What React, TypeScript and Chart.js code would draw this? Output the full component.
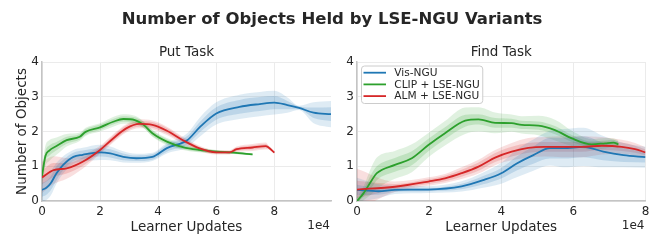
import React, { useEffect, useRef } from "react";
import { Chart, registerables } from "chart.js";

Chart.register(...registerables);

const FONT = "'DejaVu Sans', 'Liberation Sans', sans-serif";
const TEXT = "#262626";

const seriesNames = ["Vis-NGU", "CLIP + LSE-NGU", "ALM + LSE-NGU"];
const seriesColors = ["#1f77b4", "#2ca02c", "#d62728"];
const seriesRgb = ["31,119,180", "44,160,44", "214,39,40"];
const yTicks = [0, 1, 2, 3, 4];
const xTicks = [0, 20000, 40000, 60000, 80000];
const mainTitle = "Number of Objects Held by LSE-NGU Variants";
const panelTitles = ["Put Task", "Find Task"];
const xLabel = "Learner Updates";
const yLabel = "Number of Objects";

// ---- Put Task ----
const putVisX = [0, 1500, 3000, 5000, 7300, 10800, 14000, 20000, 23500, 28000, 32500, 38000, 43000, 50000, 54500, 60000, 68000, 75000, 80000, 84500, 88500, 93500, 99500];
const putVisMean = [0.32, 0.38, 0.51, 0.8, 1.04, 1.27, 1.33, 1.4, 1.37, 1.27, 1.23, 1.27, 1.52, 1.75, 2.14, 2.52, 2.71, 2.79, 2.83, 2.76, 2.68, 2.54, 2.5];
const putVisInner = [0.2, 0.2, 0.2, 0.2, 0.15, 0.12, 0.12, 0.12, 0.12, 0.1, 0.08, 0.08, 0.1, 0.12, 0.15, 0.18, 0.2, 0.2, 0.19, 0.12, 0.04, 0.15, 0.2];
const putVisOuter = [0.35, 0.35, 0.35, 0.3, 0.25, 0.2, 0.2, 0.22, 0.2, 0.16, 0.13, 0.12, 0.15, 0.2, 0.28, 0.32, 0.35, 0.35, 0.34, 0.22, 0.06, 0.3, 0.38];

const putClipX = [0, 1200, 2500, 5000, 8500, 13000, 15000, 20000, 24500, 28000, 32000, 35000, 38000, 43000, 48500, 54000, 60000, 66000, 72500];
const putClipMean = [0.72, 1.3, 1.45, 1.58, 1.75, 1.85, 1.99, 2.12, 2.28, 2.36, 2.33, 2.19, 1.95, 1.71, 1.55, 1.47, 1.42, 1.39, 1.34];
const putClipInner = [0.15, 0.15, 0.15, 0.12, 0.1, 0.08, 0.08, 0.08, 0.08, 0.08, 0.08, 0.08, 0.08, 0.07, 0.06, 0.05, 0.04, 0.03, 0.02];
const putClipOuter = [0.3, 0.3, 0.3, 0.25, 0.18, 0.12, 0.12, 0.12, 0.14, 0.14, 0.12, 0.1, 0.1, 0.1, 0.08, 0.07, 0.05, 0.04, 0.03];

const putAlmX = [0, 4000, 8500, 14000, 20000, 24500, 29000, 33500, 38000, 43000, 48500, 54000, 60000, 64500, 67000, 72500, 77000, 78000, 80000];
const putAlmMean = [0.68, 0.89, 0.94, 1.13, 1.47, 1.8, 2.09, 2.22, 2.19, 2.02, 1.75, 1.52, 1.4, 1.4, 1.49, 1.54, 1.58, 1.54, 1.39];
const putAlmInner = [0.2, 0.2, 0.15, 0.12, 0.08, 0.08, 0.08, 0.08, 0.08, 0.08, 0.06, 0.05, 0.04, 0.04, 0.05, 0.06, 0.06, 0.04, 0.02];
const putAlmOuter = [0.45, 0.4, 0.3, 0.2, 0.12, 0.12, 0.12, 0.13, 0.13, 0.12, 0.1, 0.08, 0.06, 0.06, 0.08, 0.1, 0.1, 0.06, 0.03];

// ---- Find Task ----
const findVisX = [0, 5900, 10500, 19800, 29000, 35000, 40000, 44300, 48900, 53500, 57200, 62800, 68300, 73900, 80000];
const findVisMean = [0.32, 0.28, 0.32, 0.33, 0.42, 0.6, 0.8, 1.08, 1.32, 1.52, 1.52, 1.56, 1.42, 1.32, 1.26];
const findVisInner = [0.15, 0.1, 0.06, 0.05, 0.08, 0.12, 0.15, 0.2, 0.25, 0.3, 0.3, 0.3, 0.25, 0.2, 0.15];
const findVisOuter = [0.35, 0.2, 0.12, 0.1, 0.15, 0.22, 0.3, 0.4, 0.45, 0.5, 0.55, 0.55, 0.45, 0.35, 0.3];

const findClipX = [0, 1800, 4100, 5500, 10500, 15200, 19800, 24400, 30000, 33700, 38300, 42900, 45700, 50300, 54900, 59600, 65100, 68800, 71100, 72500];
const findClipMean = [0, 0.22, 0.6, 0.8, 1.04, 1.23, 1.61, 1.95, 2.31, 2.35, 2.25, 2.24, 2.19, 2.17, 2.04, 1.8, 1.63, 1.66, 1.68, 1.63];
const findClipInner = [0.05, 0.1, 0.2, 0.2, 0.2, 0.2, 0.18, 0.17, 0.17, 0.15, 0.14, 0.13, 0.12, 0.12, 0.12, 0.1, 0.08, 0.08, 0.08, 0.08];
const findClipOuter = [0.1, 0.2, 0.4, 0.45, 0.4, 0.4, 0.35, 0.35, 0.38, 0.35, 0.3, 0.25, 0.25, 0.28, 0.3, 0.22, 0.15, 0.15, 0.12, 0.12];

const findAlmX = [0, 10500, 19800, 24400, 29000, 33700, 38300, 42900, 47500, 52000, 56700, 62300, 67900, 73400, 77100, 80000];
const findAlmMean = [0.33, 0.41, 0.56, 0.65, 0.8, 0.99, 1.25, 1.42, 1.53, 1.56, 1.56, 1.56, 1.59, 1.56, 1.49, 1.4];
const findAlmInner = [0.25, 0.08, 0.07, 0.08, 0.1, 0.12, 0.13, 0.14, 0.14, 0.14, 0.14, 0.14, 0.12, 0.12, 0.1, 0.08];
const findAlmOuter = [0.6, 0.15, 0.12, 0.13, 0.17, 0.2, 0.22, 0.25, 0.28, 0.28, 0.3, 0.3, 0.25, 0.2, 0.18, 0.15];

type Series = { x: number[]; mean: number[]; inner: number[]; outer: number[] };

const putSeries: Series[] = [
  { x: putVisX, mean: putVisMean, inner: putVisInner, outer: putVisOuter },
  { x: putClipX, mean: putClipMean, inner: putClipInner, outer: putClipOuter },
  { x: putAlmX, mean: putAlmMean, inner: putAlmInner, outer: putAlmOuter },
];
const findSeries: Series[] = [
  { x: findVisX, mean: findVisMean, inner: findVisInner, outer: findVisOuter },
  { x: findClipX, mean: findClipMean, inner: findClipInner, outer: findClipOuter },
  { x: findAlmX, mean: findAlmMean, inner: findAlmInner, outer: findAlmOuter },
];

function buildDatasets(series: Series[]) {
  const lines: any[] = [];
  const bands: any[] = [];
  series.forEach((s, i) => {
    const pts = (f: (j: number) => number) => s.x.map((xv, j) => ({ x: xv, y: f(j) }));
    const common = {
      pointRadius: 0,
      borderWidth: 0,
      cubicInterpolationMode: "monotone" as const,
    };
    bands.push(
      { ...common, data: pts((j) => s.mean[j] + s.outer[j]), fill: "+1", backgroundColor: `rgba(${seriesRgb[i]},0.15)`, borderColor: "transparent", order: 10 },
      { ...common, data: pts((j) => s.mean[j] - s.outer[j]), fill: false, borderColor: "transparent", order: 10 },
      { ...common, data: pts((j) => s.mean[j] + s.inner[j]), fill: "+1", backgroundColor: `rgba(${seriesRgb[i]},0.18)`, borderColor: "transparent", order: 10 },
      { ...common, data: pts((j) => s.mean[j] - s.inner[j]), fill: false, borderColor: "transparent", order: 10 }
    );
    lines.push({
      data: pts((j) => s.mean[j]),
      borderColor: seriesColors[i],
      borderWidth: 1.8,
      pointRadius: 0,
      fill: false,
      cubicInterpolationMode: "monotone" as const,
      order: 3 - i,
    });
  });
  return [...bands, ...lines];
}

const labelsPlugin = {
  id: "panelLabels",
  afterDraw(chart: any, _args: any, opts: any) {
    const { ctx, chartArea } = chart;
    const cx = (chartArea.left + chartArea.right) / 2;
    ctx.save();
    ctx.fillStyle = TEXT;
    ctx.textBaseline = "alphabetic";
    ctx.textAlign = "center";
    ctx.font = `13.5px ${FONT}`;
    ctx.fillText(opts.title, cx, 56);
    ctx.fillText(xLabel, cx, 230.5);
    ctx.font = `12px ${FONT}`;
    ctx.textAlign = "right";
    ctx.fillText("1e4", chartArea.right - 1, 228.5);
    if (opts.yTitle) {
      ctx.translate(25.5, (chartArea.top + chartArea.bottom) / 2);
      ctx.rotate(-Math.PI / 2);
      ctx.textAlign = "center";
      ctx.font = `13.5px ${FONT}`;
      ctx.fillText(yLabel, 0, 0);
    }
    ctx.restore();
  },
};

const legendPlugin = {
  id: "boxLegend",
  afterDraw(chart: any, _args: any, opts: any) {
    if (!opts.show) return;
    const { ctx, chartArea } = chart;
    ctx.save();
    ctx.font = `10.6px ${FONT}`;
    const textX = chartArea.left + 37.3;
    let maxW = 0;
    seriesNames.forEach((n) => (maxW = Math.max(maxW, ctx.measureText(n).width)));
    const bx = chartArea.left + 4.5;
    const by = 66;
    const bw = textX + maxW + 3 - bx;
    const bh = 37.5;
    ctx.beginPath();
    ctx.roundRect(bx, by, bw, bh, 3);
    ctx.fillStyle = "rgba(255,255,255,0.85)";
    ctx.fill();
    ctx.strokeStyle = "#cccccc";
    ctx.lineWidth = 1;
    ctx.stroke();
    const rows = [72.7, 84.4, 96.1];
    seriesNames.forEach((n, i) => {
      ctx.beginPath();
      ctx.moveTo(chartArea.left + 6.5, rows[i]);
      ctx.lineTo(chartArea.left + 29, rows[i]);
      ctx.strokeStyle = seriesColors[i];
      ctx.lineWidth = 1.8;
      ctx.stroke();
      ctx.fillStyle = TEXT;
      ctx.textAlign = "left";
      ctx.textBaseline = "middle";
      ctx.fillText(n, textX, rows[i] + 0.5);
    });
    ctx.restore();
  },
};

type PanelProps = {
  series: Series[];
  title: string;
  xMax: number;
  yAxisWidth: number;
  padRight: number;
  width: number;
  left: number;
  yTitle: boolean;
  legend: boolean;
};

function Panel(p: PanelProps) {
  const ref = useRef<HTMLCanvasElement | null>(null);
  useEffect(() => {
    if (!ref.current) return;
    const chart = new Chart(ref.current, {
      type: "line",
      data: { datasets: buildDatasets(p.series) as any },
      plugins: [labelsPlugin, legendPlugin] as any,
      options: {
        animation: false,
        responsive: false,
        devicePixelRatio: 1,
        layout: { padding: { top: 62, right: p.padRight, left: 0, bottom: 0 } },
        plugins: {
          legend: { display: false },
          tooltip: { enabled: false },
          title: { display: false },
          panelLabels: { title: p.title, yTitle: p.yTitle },
          boxLegend: { show: p.legend },
        } as any,
        scales: {
          x: {
            type: "linear",
            min: 0,
            max: p.xMax,
            afterFit: (s: any) => {
              s.height = 48;
            },
            afterBuildTicks: (s: any) => {
              s.ticks = xTicks.filter((v) => v <= p.xMax).map((v) => ({ value: v }));
            },
            ticks: {
              autoSkip: false,
              maxRotation: 0,
              padding: 4,
              color: TEXT,
              font: { family: FONT, size: 12 },
              callback: (v: any) => String(Number(v) / 10000),
            },
            grid: { color: "#ebebeb", lineWidth: 1, drawTicks: false },
            border: { display: true, color: "#c4c4c4", width: 1.5 },
          },
          y: {
            type: "linear",
            min: yTicks[0],
            max: yTicks[yTicks.length - 1],
            afterFit: (s: any) => {
              s.width = p.yAxisWidth;
            },
            afterBuildTicks: (s: any) => {
              s.ticks = yTicks.map((v) => ({ value: v }));
            },
            ticks: {
              autoSkip: false,
              padding: 3,
              color: TEXT,
              font: { family: FONT, size: 12 },
            },
            grid: { color: "#ebebeb", lineWidth: 1, drawTicks: false },
            border: { display: true, color: "#c4c4c4", width: 1.5 },
          },
        },
      } as any,
    });
    return () => chart.destroy();
  }, []);
  return (
    <canvas
      ref={ref}
      width={p.width}
      height={249}
      style={{ position: "absolute", left: p.left, top: 0, width: p.width, height: 249 }}
    />
  );
}

export default function App() {
  return (
    <div style={{ position: "fixed", left: 0, top: 0, width: 664, height: 249, background: "#ffffff", overflow: "hidden" }}>
      <Panel series={putSeries} title={panelTitles[0]} xMax={99500} yAxisWidth={42} padRight={9} width={340} left={0} yTitle={true} legend={false} />
      <Panel series={findSeries} title={panelTitles[1]} xMax={80000} yAxisWidth={17} padRight={18.5} width={324} left={340} yTitle={false} legend={true} />
      <div
        style={{
          position: "absolute",
          left: 0,
          top: 9,
          width: 664,
          textAlign: "center",
          fontFamily: FONT,
          fontWeight: "bold",
          fontSize: 16.5,
          lineHeight: "20px",
          color: TEXT,
          whiteSpace: "nowrap",
        }}
      >
        {mainTitle}
      </div>
    </div>
  );
}
